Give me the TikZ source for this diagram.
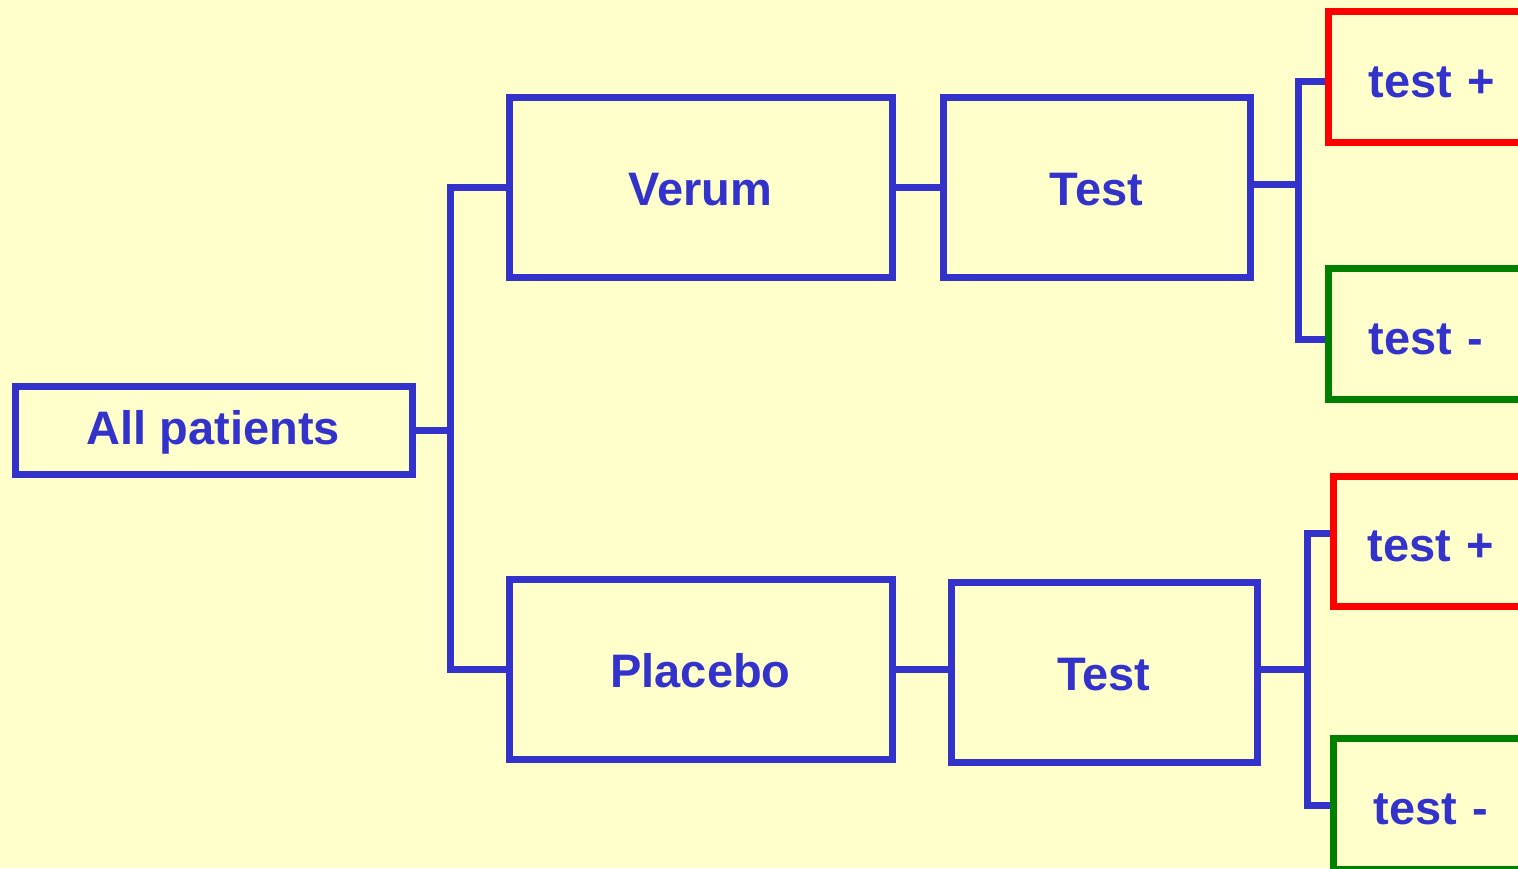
\documentclass[tikz,border=0pt]{standalone}
\usepackage{fontspec}
\setmainfont{Liberation Sans}
\definecolor{boxblue}{RGB}{51,51,204}
\definecolor{paper}{RGB}{255,255,204}
\definecolor{posred}{RGB}{255,0,0}
\definecolor{neggreen}{RGB}{0,128,0}
\begin{document}
\begin{tikzpicture}[x=0.5pt,y=-0.5pt,
  line join=miter,
  lbl/.style={font=\fontsize{23.5pt}{28pt}\selectfont\bfseries, text=boxblue},
  box/.style={lbl, draw=boxblue, line width=3.5pt, inner sep=0pt,
    text height=18.3pt, text depth=0pt},
  leaf/.style={lbl, line width=3.5pt, anchor=west, inner xsep=20pt, inner ysep=0pt,
    text width=100pt, align=left, minimum height=65.5pt,
    text height=20.8pt, text depth=0pt},
  posbox/.style={leaf, draw=posred},
  negbox/.style={leaf, draw=neggreen},
  link/.style={draw=boxblue, line width=3.5pt}]
  % page and background
  \useasboundingbox (0,0) rectangle (1518,868);
  \fill[paper] (0,0) rectangle (1518,868);
  \clip (0,0) rectangle (1518,868);

  % tree nodes
  \node[box, text height=14.3pt, minimum width=198.5pt, minimum height=44pt] (all) at (213.5,430) {All patients};
  \node[box, minimum width=191.5pt, minimum height=90pt] (verum) at (700.5,187) {Verum};
  \node[box, minimum width=153.5pt, minimum height=90pt] (testA) at (1096.5,187) {Test};
  \node[box, minimum width=191.5pt, minimum height=90pt] (placebo) at (700.5,669) {Placebo};
  \node[box, minimum width=153pt, minimum height=90pt] (testB) at (1104,672) {Test};

  % outcome boxes (running off the right edge)
  \node[posbox] (posA) at (1325,76.5) {test +};
  \node[negbox] (negA) at (1325,334) {test -};
  \node[posbox, inner xsep=17pt, minimum height=65pt] (posB) at (1330,541) {test +};
  \node[negbox] (negB) at (1330,804) {test -};

  % connectors
  \draw[link] (all.east) -- ++(17.25pt,0) coordinate (split) |- (verum.west);
  \draw[link] (split) |- (placebo.west);
  \draw[link] (verum) -- (testA);
  \draw[link] (placebo.east) -- (placebo.east -| testB.west);
  \draw[link] ([yshift=1.5pt]testA.east) -- ++(22.25pt,0) coordinate (forkA) |- ([yshift=-2.5pt]posA.west);
  \draw[link] (forkA) |- ([yshift=-2.5pt]negA.west);
  \draw[link] ([yshift=1.5pt]testB.east) -- ++(23.25pt,0) coordinate (forkB) |- ([yshift=4pt]posB.west);
  \draw[link] (forkB) |- ([yshift=-0.5pt]negB.west);
\end{tikzpicture}
\end{document}
